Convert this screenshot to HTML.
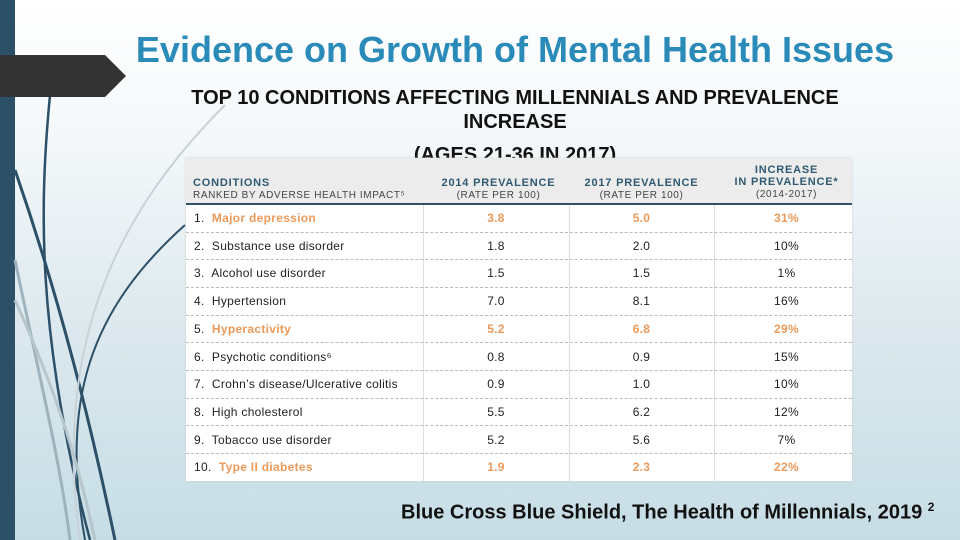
<!DOCTYPE html>
<html><head><meta charset="utf-8"><style>
html,body{margin:0;padding:0}
body{width:960px;height:540px;overflow:hidden;position:relative;font-family:"Liberation Sans",sans-serif;
background:linear-gradient(180deg,#ffffff 0%,#f4f8fa 25%,#dde9ee 60%,#c6dde5 100%)}
.abs{position:absolute}
#tbl{left:186px;top:158px;width:666px;height:323px;background:#fff;box-shadow:0 0 2px #ccc}
#hdr{left:0;top:0;width:666px;height:45px;background:#ececec;border-bottom:2px solid #2f4f63}
.h{font-weight:bold;color:#2f5a72;font-size:11px;letter-spacing:0.8px;text-align:center;line-height:12px}
.sub{font-weight:normal;color:#444;font-size:10px;letter-spacing:0.6px}
.row{position:absolute;left:0;width:666px;height:27.6px;border-bottom:1px dashed #bbb;font-size:12px;color:#222;letter-spacing:0.3px}
.row span{position:absolute;top:7px}
.or{color:#ec9a5a;font-weight:bold}
.vl{position:absolute;top:47px;width:1px;height:276px;background:#ddd}
</style></head><body>
<div class="abs" style="left:0;top:0;width:15px;height:540px;background:#2c5068"></div>
<svg class="abs" style="left:0;top:0" width="260" height="540">
<path d="M50,95 C40,200 35,330 90,540" stroke="#2c5068" stroke-width="2.5" fill="none"/>
<path d="M15,170 C60,300 90,420 115,540" stroke="#2c5068" stroke-width="3" fill="none"/>
<path d="M225,105 C130,200 50,330 80,540" stroke="#c8d2d8" stroke-width="2" fill="none"/>
<path d="M185,225 C90,310 60,400 85,540" stroke="#2c5068" stroke-width="2" fill="none"/>
<path d="M15,260 C40,380 60,460 70,540" stroke="#9fb3bd" stroke-width="3" fill="none"/>
<path d="M15,300 C60,400 80,470 95,540" stroke="#b7c6cd" stroke-width="3" fill="none"/>
</svg>
<svg class="abs" style="left:0;top:55px" width="130" height="43">
<polygon points="0,0 105,0 126,21 105,42 0,42" fill="#333"/>
</svg>
<div class="abs" style="left:80px;top:29px;width:870px;text-align:center;font-size:36px;font-weight:bold;color:#2a8ab8">Evidence on Growth of Mental Health Issues</div>
<div class="abs" style="left:165px;top:86px;width:700px;text-align:center;font-size:20px;font-weight:bold;line-height:24px;color:#111;height:72px;overflow:hidden">TOP 10 CONDITIONS AFFECTING MILLENNIALS AND PREVALENCE<br>INCREASE<br><div style="margin-top:9px">(AGES 21-36 IN 2017)</div></div>
<div class="abs" id="tbl">
<div class="abs" id="hdr">
<div class="abs h" style="left:7px;top:19px;text-align:left">CONDITIONS<br><span class="sub">RANKED BY ADVERSE HEALTH IMPACT⁵</span></div>
<div class="abs h" style="left:240px;top:19px;width:145px">2014 PREVALENCE<br><span class="sub">(RATE PER 100)</span></div>
<div class="abs h" style="left:383px;top:19px;width:145px">2017 PREVALENCE<br><span class="sub">(RATE PER 100)</span></div>
<div class="abs h" style="left:528px;top:6px;width:145px">INCREASE<br>IN PREVALENCE*<br><span class="sub">(2014-2017)</span></div>
</div>
<div class="vl" style="left:237px"></div><div class="vl" style="left:383px"></div><div class="vl" style="left:528px"></div>
<div id="rows"></div>
</div>
<div class="abs" style="left:401px;top:500px;font-size:20px;font-weight:bold;color:#111">Blue Cross Blue Shield, The Health of Millennials, 2019 <sup style="font-size:12px">2</sup></div>
<script>
const conditions=["Major depression","Substance use disorder","Alcohol use disorder","Hypertension","Hyperactivity","Psychotic conditions⁶","Crohn’s disease/Ulcerative colitis","High cholesterol","Tobacco use disorder","Type II diabetes"];
const prev2014=["3.8","1.8","1.5","7.0","5.2","0.8","0.9","5.5","5.2","1.9"];
const prev2017=["5.0","2.0","1.5","8.1","6.8","0.9","1.0","6.2","5.6","2.3"];
const increase=["31%","10%","1%","16%","29%","15%","10%","12%","7%","22%"];
const highlighted=[true,false,false,false,true,false,false,false,false,true];
const rows=document.getElementById('rows');
conditions.forEach((c,i)=>{
 const r=document.createElement('div');
 r.className='row';
 
 
 r.style.top=(46+i*27.7)+'px';
 if(i==9)r.style.borderBottom='none';
 const hl=highlighted[i]?' class="or"':'';
 r.innerHTML=`<span style="left:8px">${i+1}.&nbsp; <b${hl} style="font-weight:${highlighted[i]?'bold':'normal'}">${c}</b></span>`+
 `<span${hl} style="left:237px;width:146px;text-align:center">${prev2014[i]}</span>`+
 `<span${hl} style="left:383px;width:145px;text-align:center">${prev2017[i]}</span>`+
 `<span${hl} style="left:528px;width:145px;text-align:center">${increase[i]}</span>`;
 rows.appendChild(r);
});
</script>
</body></html>
